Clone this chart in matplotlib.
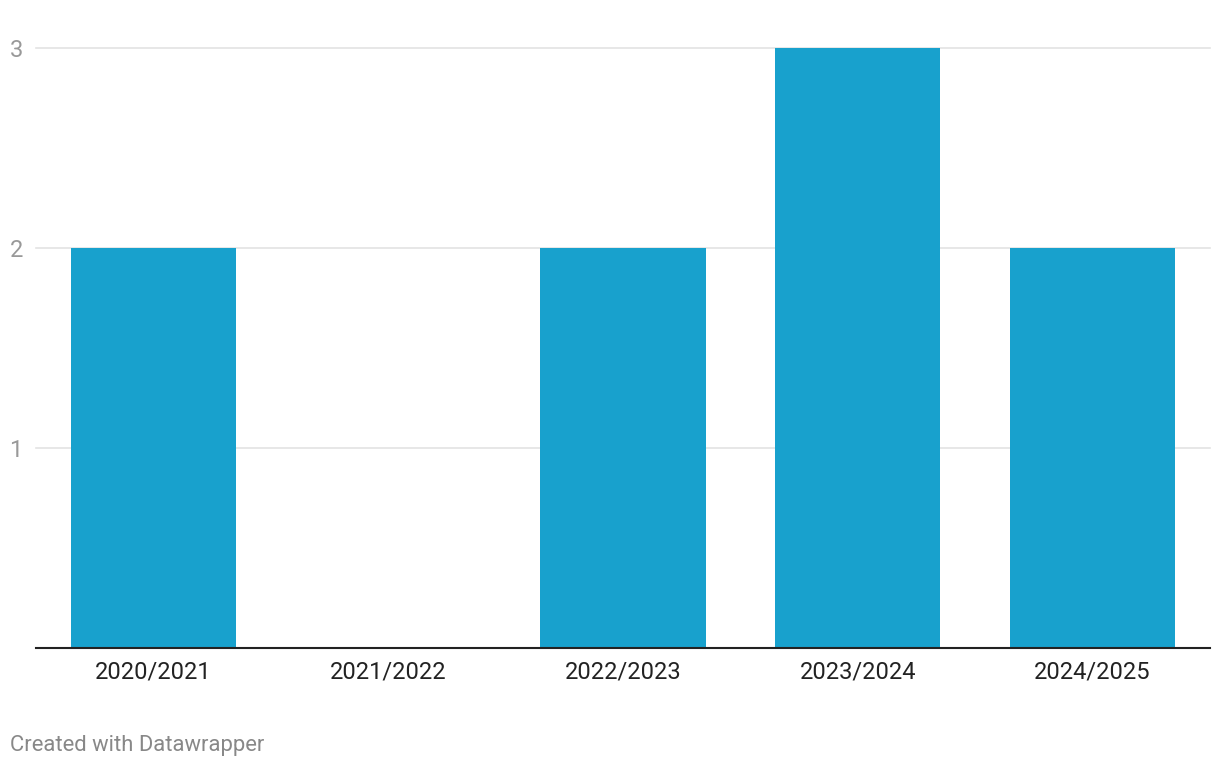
import matplotlib.pyplot as plt

seasons = ["2020/2021", "2021/2022", "2022/2023", "2023/2024", "2024/2025"]
counts = [2, 0, 2, 3, 2]
y_ticks = [1, 2, 3]

plt.rcParams["font.family"] = ["Roboto", "DejaVu Sans"]

fig = plt.figure(figsize=(12.2, 7.68), dpi=100)
ax = fig.add_axes([36 / 1220, 120 / 768, 1174 / 1220, 600 / 768])

x = range(len(seasons))
ax.bar(x, counts, width=0.703, color="#18a1cd", zorder=2)

for v in y_ticks:
    ax.axhline(v, color="#e3e3e3", linewidth=1.2, zorder=1, clip_on=False)
ax.axhline(0, color="#222222", linewidth=1.5, zorder=3, clip_on=False)

ax.set_xlim(-0.5, len(seasons) - 0.5)
ax.set_ylim(0, 3)
ax.set_xticks(list(x))
ax.set_xticklabels(seasons, fontsize=17, color="#222222")
ax.set_yticks(y_ticks)
ax.set_yticklabels([str(v) for v in y_ticks], fontsize=17, color="#999999")
ax.tick_params(axis="x", length=0, pad=9)
ax.tick_params(axis="y", length=0, pad=9.5)
for s in ax.spines.values():
    s.set_visible(False)

fig.text(10 / 1220, 1 - 745 / 768, "Created with Datawrapper", fontsize=15.8,
         color="#888888", va="center", ha="left")

fig.savefig("out.png", dpi=100)
